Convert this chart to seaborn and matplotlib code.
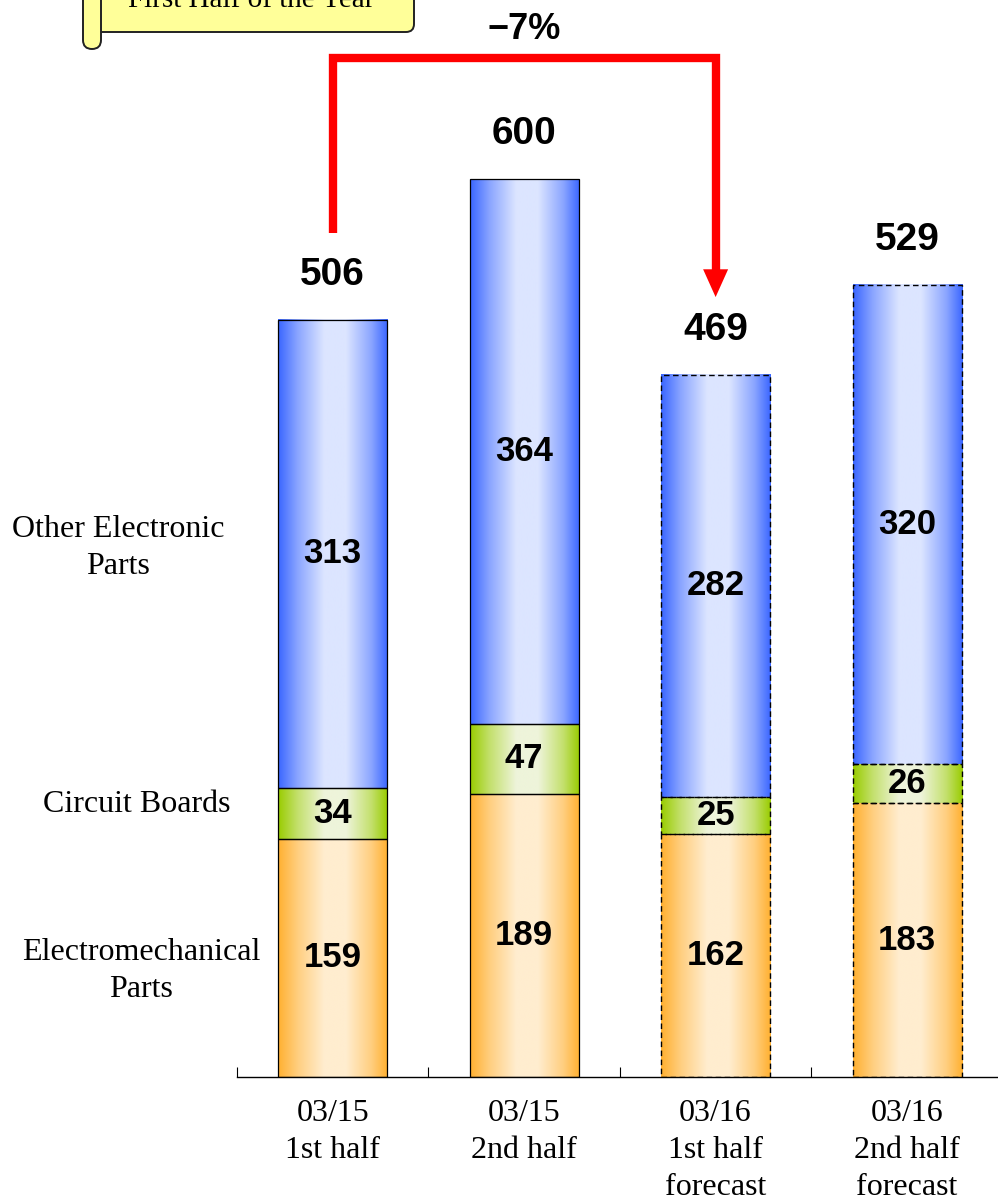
import numpy as np
import matplotlib
matplotlib.use("Agg")
import matplotlib.pyplot as plt
import seaborn as sns
from matplotlib.colors import LinearSegmentedColormap, to_rgb
from matplotlib.patches import FancyBboxPatch, FancyArrowPatch

# ---------------- data ----------------
categories = ["03/15\n1st half", "03/15\n2nd half",
              "03/16\n1st half\nforecast", "03/16\n2nd half\nforecast"]
electromechanical = [159, 189, 162, 183]
circuit_boards = [34, 47, 25, 26]
other_electronic = [313, 364, 282, 320]
totals = [506, 600, 469, 529]
is_forecast = [False, False, True, True]
segment_names = ["Electromechanical\nParts", "Circuit Boards", "Other Electronic\nParts"]
change_label = "\u22127%"
callout_text = "First Half of the Year"

# ---------------- style ----------------
sns.set_theme(style="white")
plt.rcParams["font.family"] = ["Liberation Sans", "DejaVu Sans"]
SERIF = ["Liberation Serif", "DejaVu Serif"]

W, H = 998, 1201
fig = plt.figure(figsize=(W / 100, H / 100), dpi=100)
fig.patch.set_facecolor("white")
ax = fig.add_axes([237 / W, 124 / H, 1 - 237 / W, 1 - 124 / H])
ax.set_facecolor("none")

layers = [electromechanical, circuit_boards, other_electronic]
edge_cols = ["#FFB030", "#99CC00", "#3A66FF"]
center_cols = ["#FFEDCF", "#EEF4DA", "#DCE5FF"]


def grad_cmap(edge, center):
    e = np.array(to_rgb(edge))
    c = np.array(to_rgb(center))
    m = (e + c) / 2
    return LinearSegmentedColormap.from_list(
        "g", [(0.0, e), (0.18, m), (0.42, c), (0.62, c), (0.85, m), (1.0, e)])


bottom = np.zeros(len(categories))
layer_patches = []
for vals, ec in zip(layers, edge_cols):
    n0 = len(ax.patches)
    sns.barplot(x=categories, y=vals, bottom=bottom, color=ec, width=0.57,
                saturation=1, ax=ax, edgecolor="black", linewidth=0.9)
    layer_patches.append(list(ax.patches[n0:]))
    bottom = bottom + np.array(vals)

grad = np.linspace(0, 1, 256).reshape(1, -1)
for patches, ec, cc in zip(layer_patches, edge_cols, center_cols):
    cmap = grad_cmap(ec, cc)
    for i, p in enumerate(patches):
        x0, y0, w, h = p.get_x(), p.get_y(), p.get_width(), p.get_height()
        ax.imshow(grad, extent=[x0, x0 + w, y0, y0 + h], cmap=cmap,
                  aspect="auto", zorder=1.5, interpolation="bilinear")
        p.set_facecolor("none")
        p.set_zorder(2)
        if is_forecast[i]:
            p.set_linestyle((0, (4, 2.5)))
            p.set_linewidth(1.0)

ax.set_xlim(-0.5, 3.475)
ax.set_ylim(0, 1077 / 1.497)

# value labels inside segments
bottom = np.zeros(len(categories))
for vals in layers:
    for i, v in enumerate(vals):
        ax.text(i, bottom[i] + v / 2, str(v), ha="center", va="center",
                fontsize=25, fontweight="bold", color="black", zorder=3)
    bottom = bottom + np.array(vals)

# totals
for i, t in enumerate(totals):
    ax.text(i, t + 30, str(t), ha="center", va="center", fontsize=28,
            fontweight="bold", color="black", zorder=3)

# red bracket arrow from first to third bar
x0, x2 = 0, 2
y_start = totals[0] + 58
y_top = max(totals) + 81
y_tip = totals[2] + 52
ax.plot([x0, x0, x2, x2], [y_start, y_top, y_top, y_tip + 14], color="red",
        lw=6, solid_joinstyle="miter", solid_capstyle="butt", zorder=4,
        clip_on=False)
arr = FancyArrowPatch((x2, y_tip + 25), (x2, y_tip),
                      arrowstyle="-|>,head_length=1.0,head_width=0.45",
                      mutation_scale=20, color="red", lw=0,
                      shrinkA=0, shrinkB=0, zorder=4)
ax.add_patch(arr)
ax.text((x0 + x2) / 2, y_top + 19, change_label, ha="center", va="center",
        fontsize=26, fontweight="bold", color="black")

# axes styling
for s in ["left", "top", "right"]:
    ax.spines[s].set_visible(False)
ax.spines["bottom"].set_color("black")
ax.spines["bottom"].set_linewidth(1.0)
ax.set_yticks([])
ax.set_xticks(range(len(categories)))
ax.set_xticklabels(categories, fontfamily=SERIF, fontsize=23, linespacing=1.36)
ax.set_xticks([-0.5, 0.5, 1.5, 2.5], minor=True)
ax.tick_params(axis="x", which="major", length=0, pad=16, colors="black")
ax.tick_params(axis="x", which="minor", bottom=True, direction="in",
               length=7, width=0.8, color="black")
ax.set_xlabel("")
ax.set_ylabel("")

# overlay in pixel coordinates for side labels and callout
ov = fig.add_axes([0, 0, 1, 1], zorder=5)
ov.set_xlim(0, W)
ov.set_ylim(H, 0)
ov.axis("off")
ov.patch.set_alpha(0)

label_pos = [(141, 971), (137, 805), (118, 548)]
for name, (lx, ly) in zip(segment_names, label_pos):
    ov.text(lx, ly, name, ha="center", va="center", fontfamily=SERIF,
            fontsize=23, linespacing=1.36, color="black")

main = FancyBboxPatch((92, -40), 322, 72, boxstyle="round,pad=0,rounding_size=8",
                      fc="#FFFF99", ec="#222222", lw=1.4)
ov.add_patch(main)
roll = FancyBboxPatch((83, -20), 18, 69, boxstyle="round,pad=0,rounding_size=9",
                      fc="#FFFF99", ec="#222222", lw=1.4)
ov.add_patch(roll)
ov.text(251, 7, callout_text, ha="center", va="baseline", fontfamily=SERIF,
        fontsize=21, color="black")

fig.savefig("out.png", dpi=100)
